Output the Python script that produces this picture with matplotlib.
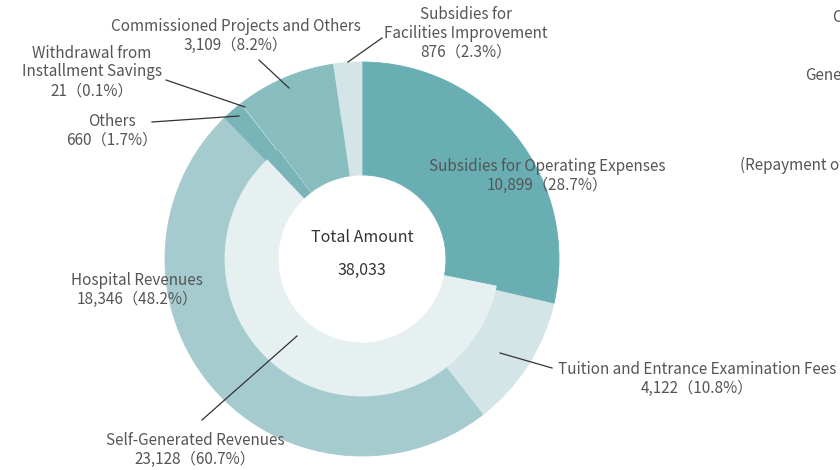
import matplotlib.pyplot as plt

plt.rcParams['font.family'] = ['Noto Sans CJK JP', 'DejaVu Sans']

# Revenue breakdown (clockwise from top)
labels = ["Subsidies for Operating Expenses", "Tuition and Entrance Examination Fees",
          "Hospital Revenues", "Others", "Withdrawal from Installment Savings",
          "Commissioned Projects and Others", "Subsidies for Facilities Improvement"]
values = [10899, 4122, 18346, 660, 21, 3109, 876]
shares = [28.7, 10.8, 48.2, 1.7, 0.1, 8.2, 2.3]
colors = ["#68aeb2", "#d3e5e7", "#a5cbce", "#78b4b8", "#d3e5e7", "#88bdc0", "#d3e5e7"]

self_gen_value = 23128
self_gen_share = 60.7
total = 38033

fig = plt.figure(figsize=(8.4, 4.7), dpi=100)
ax = fig.add_axes([0, 0, 1, 1])

H = 470
cx, cy = 362, H - 259
r_out, r_mid, r_in = 197, 137, 84

# outer ring
outer, _ = ax.pie(values, colors=colors, startangle=90, counterclock=False,
                  center=(cx, cy), radius=r_out, frame=True,
                  wedgeprops=dict(width=r_out - r_mid, linewidth=0.6))

# inner ring: self-generated revenues grouped, others continue through
inner_vals = [values[0], self_gen_value] + values[3:]
inner_cols = [colors[0], "#e6f0f1"] + colors[3:]
inner, _ = ax.pie(inner_vals, colors=inner_cols, startangle=90, counterclock=False,
                  center=(cx, cy), radius=r_mid, frame=True,
                  wedgeprops=dict(width=r_mid - r_in, linewidth=0.6))
for w in list(outer) + list(inner):
    w.set_edgecolor(w.get_facecolor())

ax.set_xlim(0, 840)
ax.set_ylim(0, 470)
ax.set_aspect('equal')
ax.axis('off')

tc = "#555555"
fs = 11


def lab(x, y, name, val, pct):
    ax.text(x, H - y, f"{name}\n{val:,}（{pct}%）", ha='center', va='center',
            fontsize=fs, color=tc, linespacing=1.15)


def line(x0, y0, x1, y1):
    ax.plot([x0, x1], [H - y0, H - y1], color="#333333", lw=0.9)


lab(236, 36, "Commissioned Projects and Others", values[5], shares[5])
lab(466, 33, "Subsidies for\nFacilities Improvement", values[6], shares[6])
lab(92, 72, "Withdrawal from\nInstallment Savings", values[4], shares[4])
lab(112, 131, "Others", values[3], shares[3])
lab(547, 176, "Subsidies for Operating Expenses", values[0], shares[0])
lab(137, 290, "Hospital Revenues", values[2], shares[2])
lab(195, 450, "Self-Generated Revenues", self_gen_value, self_gen_share)
lab(697, 379, "Tuition and Entrance Examination Fees", values[1], shares[1])

line(259, 60, 289, 88)
line(382, 38, 348, 62)
line(166, 80, 245, 107)
line(152, 122, 239, 116)
line(202, 420, 297, 336)
line(500, 353, 552, 368)

ax.text(cx, H - 238, "Total Amount", ha='center', va='center', fontsize=11.5, color="#333333")
ax.text(cx, H - 270, f"{total:,}", ha='center', va='center', fontsize=11.5, color="#333333")

# neighbouring chart labels cut off at right edge (as in the source image)
ax.text(832, H - 17, "Costs", ha='left', va='center', fontsize=fs, color=tc, clip_on=False)
ax.text(805, H - 75, "General", ha='left', va='center', fontsize=fs, color=tc, clip_on=False)
ax.text(740, H - 165, "(Repayment of", ha='left', va='center', fontsize=fs, color=tc, clip_on=False)

fig.savefig("out.png", dpi=100)
